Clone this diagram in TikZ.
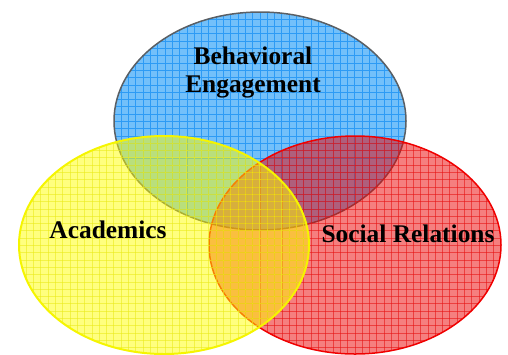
\documentclass[tikz,border=0pt]{standalone}
\usepackage{fontspec}
\setmainfont{Liberation Serif}
\definecolor{bluefill}{RGB}{115,192,250}
\definecolor{blueline}{RGB}{45,155,245}
\definecolor{blueedge}{RGB}{90,95,100}
\definecolor{redbase}{RGB}{235,0,0}
\definecolor{redline}{RGB}{230,20,20}
\definecolor{redge}{RGB}{240,0,0}
\definecolor{yelbase}{RGB}{255,255,0}
\definecolor{yelline}{RGB}{235,235,30}
\definecolor{yeledge}{RGB}{245,245,0}
\tikzset{
  lbl/.style={font=\fontsize{25.5}{28}\selectfont\bfseries, align=center, inner sep=0pt},
  gridline/.style={line width=0.9bp},
}
\begin{document}
\begin{tikzpicture}[x=1bp,y=-1bp]
\useasboundingbox (0,0) rectangle (508,354);
% Blue ellipse
\begin{scope}
  \clip (260,121) ellipse [x radius=146, y radius=109];
  \fill[bluefill] (110,8) rectangle (410,234);
  \foreach \i in {0,...,41} \draw[gridline, blueline] (114+\i*7.3,8) -- (114+\i*7.3,234);
  \foreach \i in {0,...,30} \draw[gridline, blueline] (110,12+\i*7.3) -- (410,12+\i*7.3);
\end{scope}
\draw[blueedge, line width=1.5bp] (260,121) ellipse [x radius=146, y radius=109];
% Red ellipse
\begin{scope}[transparency group, opacity=0.5]
  \begin{scope}
    \clip (355,245) ellipse [x radius=146, y radius=109];
    \fill[redbase] (205,132) rectangle (505,358);
  \end{scope}
\end{scope}
\begin{scope}[opacity=0.6]
  \clip (355,245) ellipse [x radius=146, y radius=109];
  \foreach \i in {0,...,41} \draw[gridline, redline] (209+\i*7.3,132) -- (209+\i*7.3,358);
  \foreach \i in {0,...,30} \draw[gridline, redline] (205,136+\i*7.3) -- (505,136+\i*7.3);
\end{scope}
\draw[redge, line width=1.5bp] (355,245) ellipse [x radius=146, y radius=109];
% Yellow ellipse
\begin{scope}[transparency group, opacity=0.5]
  \begin{scope}
    \clip (164,245) ellipse [x radius=145, y radius=109];
    \fill[yelbase] (15,132) rectangle (314,358);
  \end{scope}
\end{scope}
\begin{scope}[opacity=0.6]
  \clip (164,245) ellipse [x radius=145, y radius=109];
  \foreach \i in {0,...,41} \draw[gridline, yelline] (19+\i*7.3,132) -- (19+\i*7.3,358);
  \foreach \i in {0,...,30} \draw[gridline, yelline] (15,136+\i*7.3) -- (314,136+\i*7.3);
\end{scope}
\draw[yeledge, line width=2bp] (164,245) ellipse [x radius=145, y radius=109];
% Labels
\node[lbl, anchor=base] (beh) at (253,92) {Behavioral\\Engagement};
\node[lbl, anchor=base] (acad) at (108,238) {Academics};
\node[lbl, anchor=base] (soc) at (408,242) {Social Relations};
\end{tikzpicture}
\end{document}
